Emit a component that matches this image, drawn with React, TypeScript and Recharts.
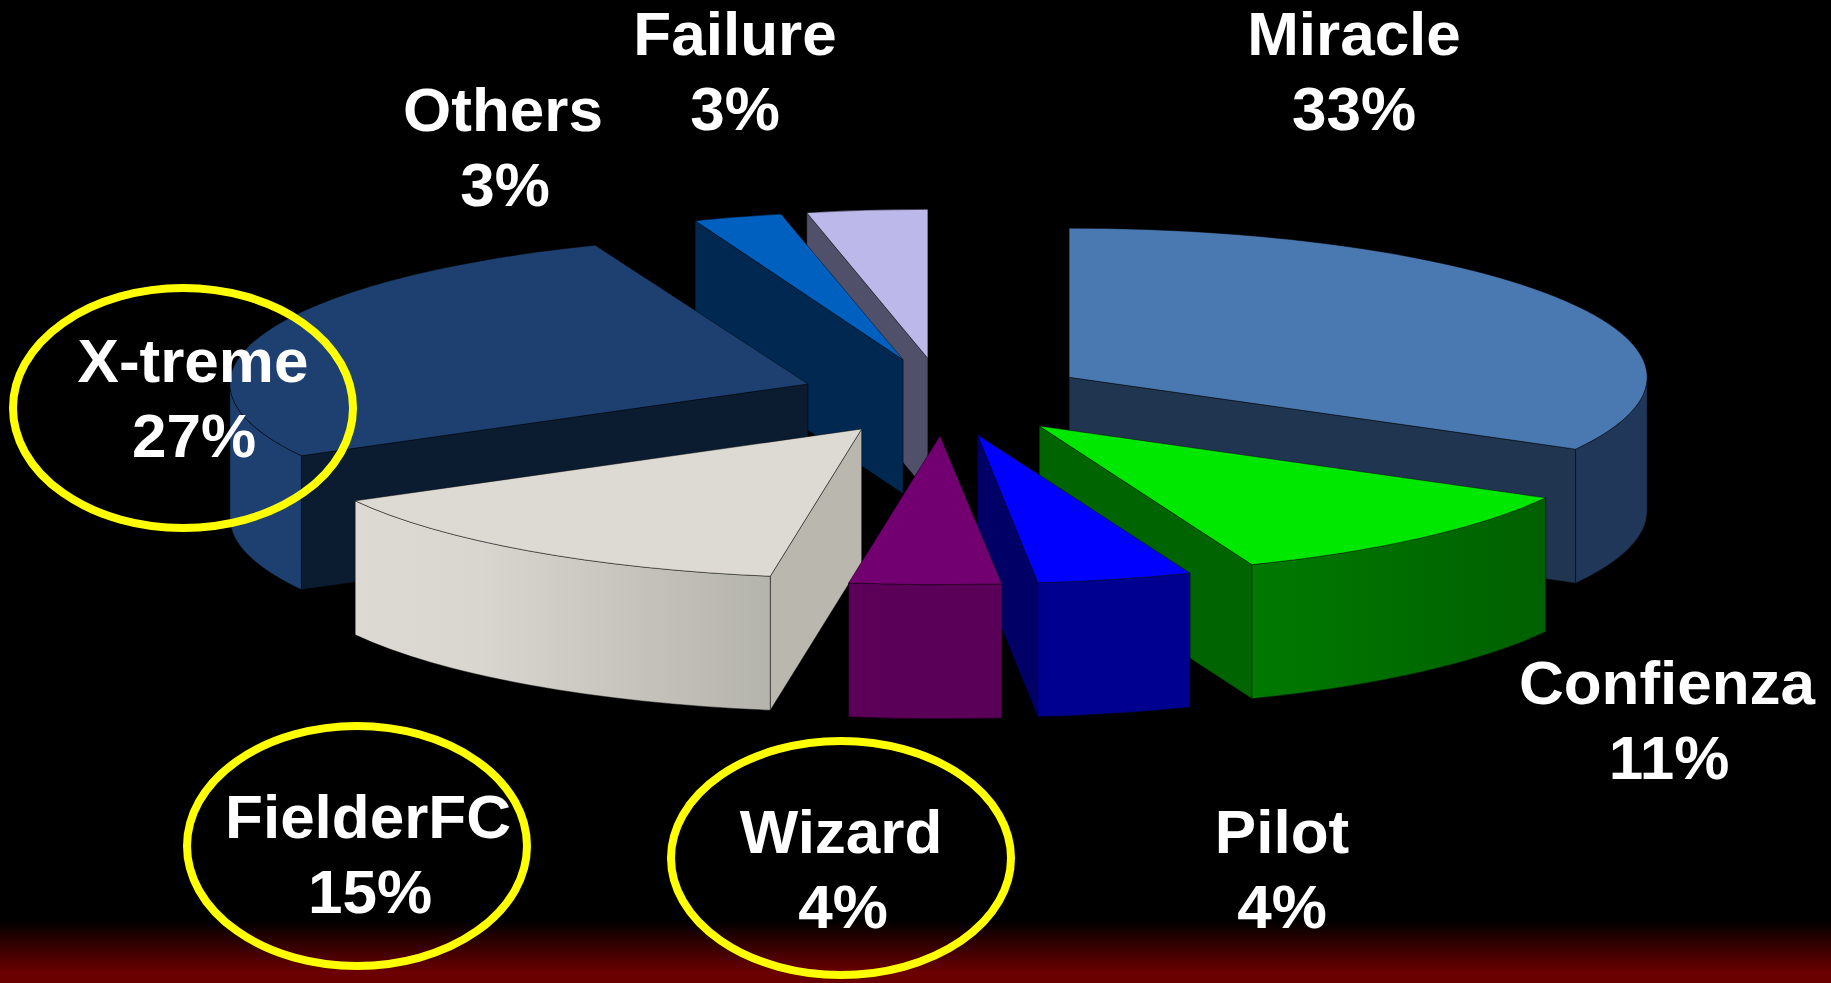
import { Pie, PieChart } from "recharts"

const categories = ["Miracle", "Confienza", "Pilot", "Wizard", "FielderFC", "X-treme", "Others", "Failure"]
const shares = [33, 11, 4, 4, 15, 27, 3, 3]

const topColors = ["#4a78b0", "#00e800", "#0000ff", "#720070", "#dcdad2", "#1d4070", "#0060c0", "#bcb9ea"]
const sideColors = ["#1f3550", "#006400", "#000066", "#5a0058", "#b9b7ae", "#0b1c30", "#002850", "#50506a"]
const wallColors = ["#20375a", "url(#greenWall)", "#000090", "#5a0058", "url(#greyWall)", "#1d4070", "#002850", "#50506a"]

const labelX = [1354, 1667, 1282, 841, 368, 193, 503, 735]
const percentX = [1354, 1669, 1282, 843, 370, 194, 505, 735]
const labelY = [55, 704, 853, 853, 838, 382, 131, 55]

// the source is a perspective view, so some slices sit a little off a true ellipse
const nudgeX = [0, 0, 0, 0, 6, 9, 5, 2]
const nudgeStart = [0, 0, 0, 1.05, 1.9, 0, 0.5, -1.3]
const nudgeEnd = [0, 0, 1.2, 1.9, 0, 0, -1.4, 0]

const ringX = [0, 0, 0, 841, 357, 183, 0, 0]
const ringY = [0, 0, 0, 858, 846, 408, 0, 0]
const ringRadiusY = [0, 0, 0, 117, 120, 120, 0, 0]

// two half pies, so that the right depth order holds on both sides of the picture
const rows = categories.map((name, i) => ({ name, value: shares[i] }))
const frontRows = rows.slice(0, 4)
const backRows = rows.slice(4).reverse()
const spanOf = (list: typeof rows) => list.reduce((sum, row) => sum + row.value, 0) * 3.6

const FLATTEN = 0.258
const DEPTH = 134
const EXPLODE = 150
const EDGE = "rgba(0,0,0,0.45)"

const rad = (deg: number) => (deg * Math.PI) / 180

function Wedge(props: any) {
  const { cx, cy, outerRadius, startAngle, endAngle } = props
  const name = props.payload?.name ?? props.name
  const i = categories.indexOf(name)

  // recharts angles -> clock angles from 12 o'clock, low to high
  let lo = Math.min(90 - startAngle, 90 - endAngle)
  let hi = Math.max(90 - startAngle, 90 - endAngle)
  while (lo < -0.001) {
    lo += 360
    hi += 360
  }
  const mid = (lo + hi) / 2
  const s = lo + nudgeStart[i]
  const e = hi + nudgeEnd[i]
  const rx = outerRadius
  const ry = outerRadius * FLATTEN
  const ax = cx + EXPLODE * Math.sin(rad(mid)) + nudgeX[i]
  const ay = cy - EXPLODE * FLATTEN * Math.cos(rad(mid))
  const pt = (deg: number): [number, number] => [
    ax + rx * Math.sin(rad(deg)),
    ay - ry * Math.cos(rad(deg)),
  ]

  const [sx, sy] = pt(s)
  const [ex, ey] = pt(e)
  const sideFace = (x: number, y: number) =>
    `M${ax},${ay} L${x},${y} L${x},${y + DEPTH} L${ax},${ay + DEPTH} Z`

  const wallFrom = Math.max(s, 90)
  const wallTo = Math.min(e, 270)
  let wall = null
  if (wallTo > wallFrom) {
    const [wx0, wy0] = pt(wallFrom)
    const [wx1, wy1] = pt(wallTo)
    wall =
      `M${wx0},${wy0} A${rx},${ry} 0 0 1 ${wx1},${wy1} L${wx1},${wy1 + DEPTH} ` +
      `A${rx},${ry} 0 0 0 ${wx0},${wy0 + DEPTH} Z`
  }

  return (
    <g>
      {Math.sin(rad(s)) < -1e-6 && <path d={sideFace(sx, sy)} fill={sideColors[i]} stroke={EDGE} />}
      {Math.sin(rad(e)) > 1e-6 && <path d={sideFace(ex, ey)} fill={sideColors[i]} stroke={EDGE} />}
      {wall && <path d={wall} fill={wallColors[i]} stroke={EDGE} />}
      <path
        d={`M${ax},${ay} L${sx},${sy} A${rx},${ry} 0 0 1 ${ex},${ey} Z`}
        fill={topColors[i]}
        stroke={EDGE}
      />
    </g>
  )
}

function SliceLabel(props: any) {
  const i = categories.indexOf(props.name)
  return (
    <g>
      <text
        fill="#ffffff"
        fontFamily="Liberation Sans"
        fontSize={62}
        fontWeight="bold"
        textAnchor="middle"
      >
        <tspan x={labelX[i]} y={labelY[i]}>
          {props.name}
        </tspan>
        <tspan x={percentX[i]} y={labelY[i] + 75}>
          {shares[i]}%
        </tspan>
      </text>
      {ringX[i] > 0 && (
        <ellipse
          cx={ringX[i]}
          cy={ringY[i]}
          fill="none"
          rx={170}
          ry={ringRadiusY[i]}
          stroke="#ffff00"
          strokeWidth={8}
        />
      )}
    </g>
  )
}

export default function App() {
  return (
    <div
      style={{
        position: "absolute",
        left: 0,
        top: 0,
        width: 1831,
        height: 983,
        background: "linear-gradient(to bottom, #000000 920px, #6b0000 972px)",
      }}
    >
      <PieChart height={983} margin={{ top: 0, right: 0, bottom: 0, left: 0 }} width={1831}>
        <defs>
          <linearGradient id="greyWall" x1="0" x2="1" y1="0" y2="0">
            <stop offset="0%" stopColor="#dcdad2" />
            <stop offset="30%" stopColor="#d8d6ce" />
            <stop offset="100%" stopColor="#b5b4ac" />
          </linearGradient>
          <linearGradient id="greenWall" x1="0" x2="1" y1="0" y2="0">
            <stop offset="0%" stopColor="#007a00" />
            <stop offset="100%" stopColor="#006000" />
          </linearGradient>
        </defs>
        <Pie
          cx={940}
          cy={397}
          data={backRows}
          dataKey="value"
          endAngle={90 + spanOf(backRows)}
          innerRadius={0}
          isAnimationActive={false}
          label={SliceLabel}
          labelLine={false}
          nameKey="name"
          outerRadius={578}
          shape={Wedge}
          startAngle={90}
          stroke="none"
        />
        <Pie
          cx={940}
          cy={397}
          data={frontRows}
          dataKey="value"
          endAngle={90 - spanOf(frontRows)}
          innerRadius={0}
          isAnimationActive={false}
          label={SliceLabel}
          labelLine={false}
          nameKey="name"
          outerRadius={578}
          shape={Wedge}
          startAngle={90}
          stroke="none"
        />
      </PieChart>
    </div>
  )
}
